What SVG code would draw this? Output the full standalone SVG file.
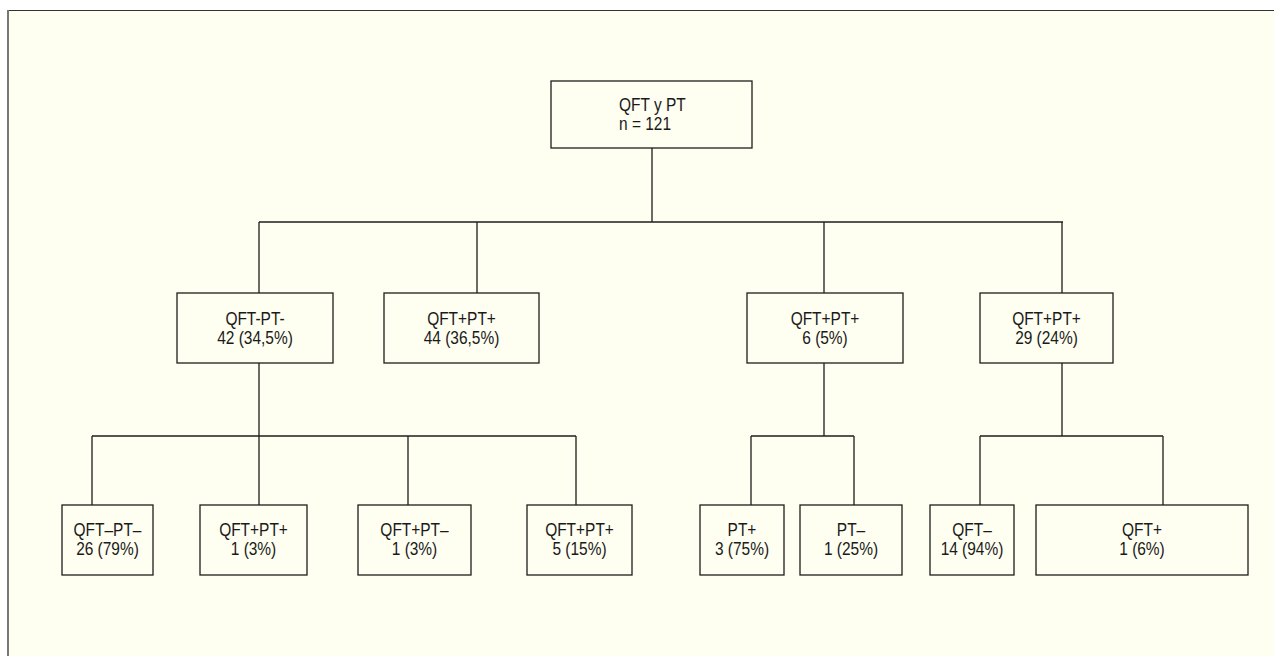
<svg xmlns="http://www.w3.org/2000/svg" width="1274" height="656" viewBox="0 0 1274 656">
<style>
.box{fill:none;stroke:#1e1e1e;stroke-width:1.3}
.ln{fill:none;stroke:#1e1e1e;stroke-width:1.3}
text{font-family:"Liberation Sans",Arial,sans-serif;font-size:18px;fill:#1a1a1a}
.c{text-anchor:middle}
</style>
<rect x="0" y="0" width="1274" height="656" fill="#ffffff"/>
<rect x="8" y="10.5" width="1280" height="660" fill="#fefef1"/>
<line x1="8" y1="10.5" x2="1274" y2="10.5" stroke="#333" stroke-width="1.2"/>
<line x1="8" y1="10" x2="8" y2="656" stroke="#777" stroke-width="2"/>
<g id="connectors">
<path class="ln" d="M652 148V222M259 222H1063M259 222V293M477 222V293M824 222V293M1062 222V293"/>
<path class="ln" d="M259 363V505M92 436H576M92 436V505M408 436V505M576 436V505"/>
<path class="ln" d="M824 363V436M751 436H854M751 436V505M854 436V505"/>
<path class="ln" d="M1062 363V436M980 436H1163M980 436V505M1163 436V505"/>
</g>
<g id="root"><rect class="box" x="551" y="81" width="201" height="67"/><text transform="matrix(0.86 0 0 1 619 111)">QFT y PT</text><text transform="matrix(0.86 0 0 1 619 130)">n = 121</text></g>
<g id="n1"><rect class="box" x="177" y="293" width="156" height="70"/><text class="c" transform="matrix(0.86 0 0 1 255 325)">QFT-PT-</text><text class="c" transform="matrix(0.86 0 0 1 255 344)">42 (34,5%)</text></g>
<g id="n2"><rect class="box" x="384" y="293" width="155" height="70"/><text class="c" transform="matrix(0.86 0 0 1 461.5 325)">QFT+PT+</text><text class="c" transform="matrix(0.86 0 0 1 461.5 344)">44 (36,5%)</text></g>
<g id="n3"><rect class="box" x="747" y="293" width="156" height="70"/><text class="c" transform="matrix(0.86 0 0 1 825 325)">QFT+PT+</text><text class="c" transform="matrix(0.86 0 0 1 825 344)">6 (5%)</text></g>
<g id="n4"><rect class="box" x="980" y="293" width="133" height="70"/><text class="c" transform="matrix(0.86 0 0 1 1046.5 325)">QFT+PT+</text><text class="c" transform="matrix(0.86 0 0 1 1046.5 344)">29 (24%)</text></g>
<g id="n5"><rect class="box" x="62" y="505" width="91" height="70"/><text class="c" transform="matrix(0.86 0 0 1 107.5 536)">QFT–PT–</text><text class="c" transform="matrix(0.86 0 0 1 107.5 555)">26 (79%)</text></g>
<g id="n6"><rect class="box" x="200" y="505" width="107" height="70"/><text class="c" transform="matrix(0.86 0 0 1 253.5 536)">QFT+PT+</text><text class="c" transform="matrix(0.86 0 0 1 253.5 555)">1 (3%)</text></g>
<g id="n7"><rect class="box" x="358" y="505" width="113" height="70"/><text class="c" transform="matrix(0.86 0 0 1 414.5 536)">QFT+PT–</text><text class="c" transform="matrix(0.86 0 0 1 414.5 555)">1 (3%)</text></g>
<g id="n8"><rect class="box" x="527" y="505" width="105" height="70"/><text class="c" transform="matrix(0.86 0 0 1 579.5 536)">QFT+PT+</text><text class="c" transform="matrix(0.86 0 0 1 579.5 555)">5 (15%)</text></g>
<g id="n9"><rect class="box" x="700" y="505" width="84" height="70"/><text class="c" transform="matrix(0.86 0 0 1 742 536)">PT+</text><text class="c" transform="matrix(0.86 0 0 1 742 555)">3 (75%)</text></g>
<g id="n10"><rect class="box" x="800" y="505" width="102" height="70"/><text class="c" transform="matrix(0.86 0 0 1 851 536)">PT–</text><text class="c" transform="matrix(0.86 0 0 1 851 555)">1 (25%)</text></g>
<g id="n11"><rect class="box" x="930" y="505" width="84" height="70"/><text class="c" transform="matrix(0.86 0 0 1 972 536)">QFT–</text><text class="c" transform="matrix(0.86 0 0 1 972 555)">14 (94%)</text></g>
<g id="n12"><rect class="box" x="1036" y="505" width="212" height="70"/><text class="c" transform="matrix(0.86 0 0 1 1142 536)">QFT+</text><text class="c" transform="matrix(0.86 0 0 1 1142 555)">1 (6%)</text></g>
</svg>
